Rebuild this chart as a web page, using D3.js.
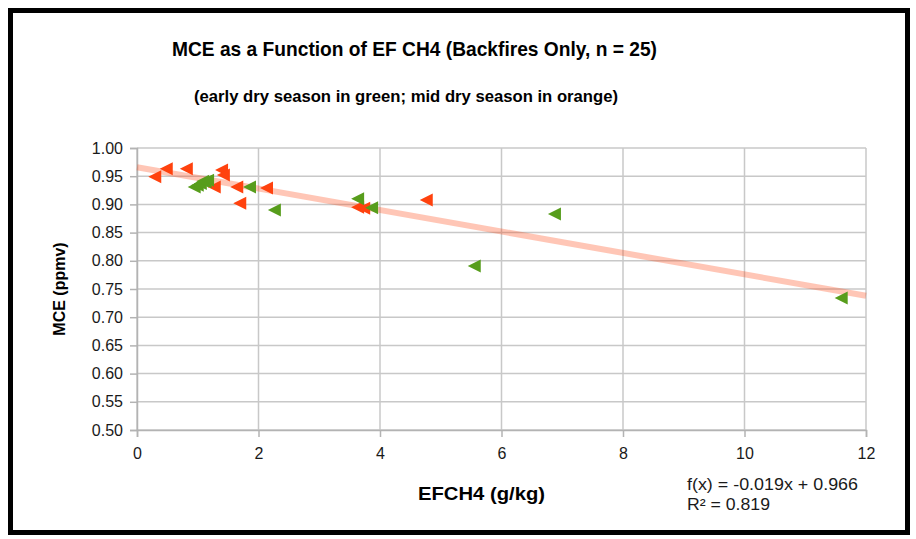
<!DOCTYPE html>
<html>
<head>
<meta charset="utf-8">
<script src="https://cdn.jsdelivr.net/npm/d3@7"></script>
<style>
  body { margin: 0; background: #fff; }
  text { font-family: "Liberation Sans", Arial, sans-serif; }
</style>
</head>
<body>
<script>
const w = 916; // width
const h = 539; // height

// early dry season (green)
const earlyX = [0.95, 1.00, 1.05, 1.09, 1.13, 1.17, 1.86, 2.27, 3.64, 3.87, 5.56, 6.88, 11.6];
const earlyY = [0.931, 0.934, 0.937, 0.941, 0.940, 0.943, 0.931, 0.890, 0.910, 0.894, 0.791, 0.883, 0.734];
// mid dry season (orange)
const midX = [0.30, 0.49, 0.82, 1.40, 1.43, 1.28, 1.65, 2.14, 1.70, 3.64, 3.74, 4.77];
const midY = [0.949, 0.963, 0.963, 0.961, 0.952, 0.931, 0.931, 0.929, 0.902, 0.895, 0.893, 0.908];

const xTicks = [0, 2, 4, 6, 8, 10, 12];
const yTicks = [0.50, 0.55, 0.60, 0.65, 0.70, 0.75, 0.80, 0.85, 0.90, 0.95, 1.00];
const slope = -0.019, intercept = 0.966;

const svg = d3.select("body").append("svg")
    .attr("width", w)
    .attr("height", h);

// outer frame
svg.append("rect")
    .attr("x", 10.5).attr("y", 10.5)
    .attr("width", 897).attr("height", 522)
    .attr("fill", "#fff")
    .attr("stroke", "#000")
    .attr("stroke-width", 5);

const x = d3.scaleLinear().domain([0, 12]).range([137, 866]);
const y = d3.scaleLinear().domain([0.5, 1.0]).range([430, 148]);

// grid
svg.append("g").selectAll("line.h")
    .data(yTicks).enter().append("line")
    .attr("x1", x(0)).attr("x2", x(12))
    .attr("y1", d => y(d)).attr("y2", d => y(d))
    .attr("stroke", "#c8c8c8").attr("stroke-width", 1.5);
svg.append("g").selectAll("line.v")
    .data(xTicks).enter().append("line")
    .attr("y1", y(0.5)).attr("y2", y(1))
    .attr("x1", d => x(d)).attr("x2", d => x(d))
    .attr("stroke", "#c8c8c8").attr("stroke-width", 1.5);

// axes
const yAxis = svg.append("g")
    .attr("transform", `translate(${x(0)},0)`)
    .call(d3.axisLeft(y).tickValues(yTicks).tickFormat(d3.format(".2f")).tickSize(7).tickPadding(7));
const xAxis = svg.append("g")
    .attr("transform", `translate(0,${y(0.5)})`)
    .call(d3.axisBottom(x).tickValues(xTicks).tickSize(7).tickPadding(11));
[xAxis, yAxis].forEach(a => {
    a.select(".domain").attr("stroke", "#b3b3b3").attr("stroke-width", 1.5);
    a.selectAll(".tick line").attr("stroke", "#b3b3b3").attr("stroke-width", 1.5);
    a.selectAll(".tick text").attr("fill", "#1a1a1a").style("font-size", "16px");
});

// trend line
svg.append("line")
    .attr("x1", x(0)).attr("y1", y(intercept))
    .attr("x2", x(12)).attr("y2", y(intercept + slope * 12))
    .attr("stroke", "#ff420e").attr("stroke-opacity", 0.3)
    .attr("stroke-width", 6);

// points: left-pointing triangles
const tri = "M-7,0 L6,-6.5 L6,6.5 Z";
function plot(xs, ys, color) {
    svg.append("g").selectAll("path")
        .data(xs.map((v, i) => [v, ys[i]]))
        .enter().append("path")
        .attr("d", tri)
        .attr("transform", d => `translate(${x(d[0])},${y(d[1])})`)
        .attr("fill", color);
}
plot(midX, midY, "#ff420e");
plot(earlyX, earlyY, "#579d1c");

// titles
svg.append("text")
    .attr("x", 172).attr("y", 56)
    .attr("textLength", 485).attr("lengthAdjust", "spacingAndGlyphs")
    .style("font-weight", "bold").style("font-size", "21px")
    .text("MCE as a Function of EF CH4 (Backfires Only, n = 25)");
svg.append("text")
    .attr("x", 194).attr("y", 102)
    .attr("textLength", 424).attr("lengthAdjust", "spacingAndGlyphs")
    .style("font-weight", "bold").style("font-size", "16.5px")
    .text("(early dry season in green; mid dry season in orange)");

// axis labels
svg.append("text")
    .attr("x", 418).attr("y", 500)
    .attr("textLength", 127).attr("lengthAdjust", "spacingAndGlyphs")
    .style("font-weight", "bold").style("font-size", "18px")
    .text("EFCH4 (g/kg)");
svg.append("text")
    .attr("transform", "translate(65,289) rotate(-90)")
    .attr("text-anchor", "middle")
    .style("font-weight", "bold").style("font-size", "16px")
    .text("MCE (ppmv)");

// equation
svg.append("text")
    .attr("x", 687).attr("y", 490)
    .attr("textLength", 171).attr("lengthAdjust", "spacingAndGlyphs")
    .style("font-size", "16.5px").attr("fill", "#1a1a1a")
    .text("f(x) = -0.019x + 0.966");
svg.append("text")
    .attr("x", 687).attr("y", 510)
    .attr("textLength", 83).attr("lengthAdjust", "spacingAndGlyphs")
    .style("font-size", "16.5px").attr("fill", "#1a1a1a")
    .text("R² = 0.819");
</script>
</body>
</html>
